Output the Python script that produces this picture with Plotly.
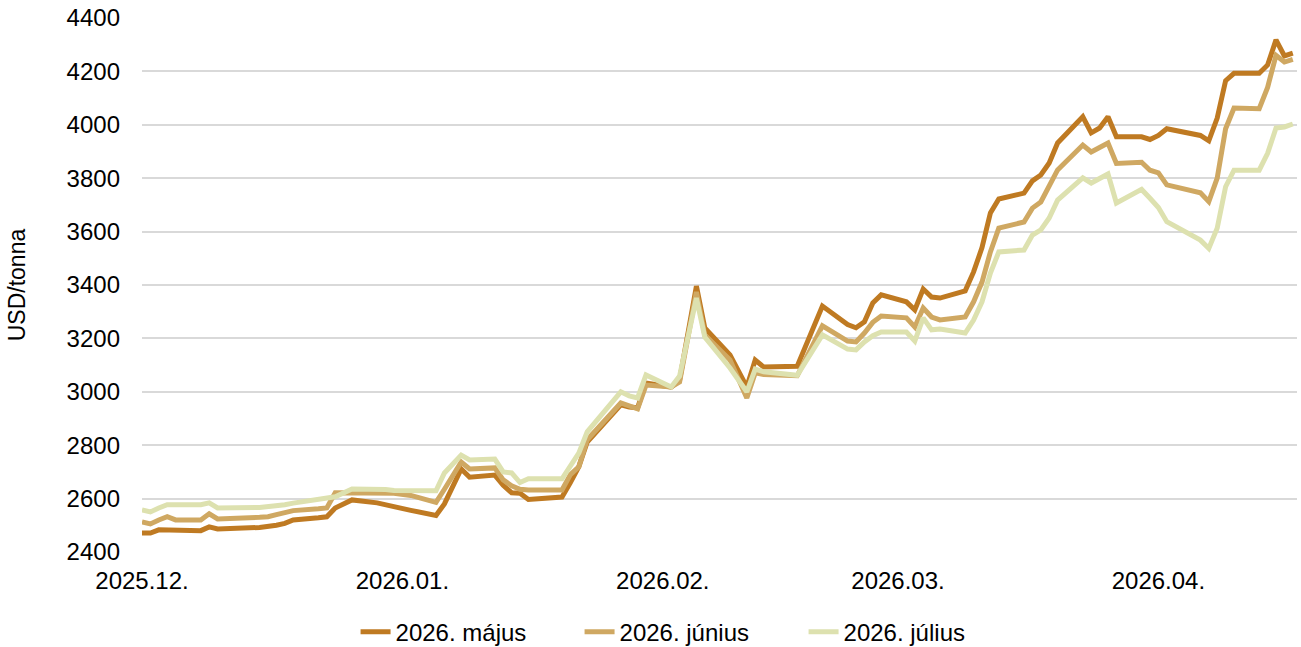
import plotly.graph_objects as go

# trading days (vertices)
dates = [
    "2025-12-01", "2025-12-02", "2025-12-03", "2025-12-04", "2025-12-05",
    "2025-12-08", "2025-12-09", "2025-12-10", "2025-12-15", "2025-12-16",
    "2025-12-17", "2025-12-18", "2025-12-19", "2025-12-22", "2025-12-23",
    "2025-12-24", "2025-12-26", "2025-12-29", "2025-12-30", "2025-12-31",
    "2026-01-02", "2026-01-05", "2026-01-06", "2026-01-08", "2026-01-09",
    "2026-01-12", "2026-01-13", "2026-01-14", "2026-01-15", "2026-01-16",
    "2026-01-20", "2026-01-21", "2026-01-22", "2026-01-23", "2026-01-27",
    "2026-01-28", "2026-01-29", "2026-01-30", "2026-02-02", "2026-02-03",
    "2026-02-05", "2026-02-06", "2026-02-09", "2026-02-11", "2026-02-12",
    "2026-02-13", "2026-02-17", "2026-02-20", "2026-02-23", "2026-02-24",
    "2026-02-25", "2026-02-26", "2026-02-27", "2026-03-02", "2026-03-03",
    "2026-03-04", "2026-03-05", "2026-03-06", "2026-03-09", "2026-03-10",
    "2026-03-11", "2026-03-12", "2026-03-13", "2026-03-16", "2026-03-17",
    "2026-03-18", "2026-03-19", "2026-03-20", "2026-03-23", "2026-03-24",
    "2026-03-25", "2026-03-26", "2026-03-27", "2026-03-30", "2026-03-31",
    "2026-04-01", "2026-04-02", "2026-04-06", "2026-04-07", "2026-04-08",
    "2026-04-09", "2026-04-10", "2026-04-13", "2026-04-14", "2026-04-15",
    "2026-04-16", "2026-04-17",
]

majus = [
    2471, 2471, 2483, 2483, 2480,
    2480, 2494, 2486, 2492, 2494,
    2500, 2507, 2520, 2528, 2532,
    2565, 2595, 2584, 2578, 2568,
    2556, 2537, 2580, 2711, 2680,
    2688, 2650, 2622, 2620, 2597,
    2606, 2660, 2719, 2812, 2951,
    2943, 2940, 3033, 3018, 3044,
    3396, 3239, 3138, 3018, 3119,
    3093, 3096, 3321, 3252, 3240,
    3262, 3333, 3363, 3337, 3307,
    3385, 3355, 3351, 3378, 3449,
    3540, 3670, 3722, 3744, 3790,
    3812, 3857, 3932, 4030, 3970,
    3988, 4030, 3955, 3955, 3945,
    3960, 3985, 3960, 3940, 4025,
    4165, 4193, 4193, 4224, 4318,
    4258, 4268,
]

junius = [
    2513, 2505, 2520, 2532, 2520,
    2520, 2543, 2524, 2530, 2532,
    2540, 2548, 2555, 2562, 2565,
    2622, 2621, 2621, 2621, 2620,
    2612, 2586, 2635, 2737, 2711,
    2715, 2670, 2648, 2635, 2632,
    2632, 2690, 2719, 2820, 2958,
    2945, 2936, 3025, 3018, 3037,
    3374, 3213, 3119, 2977, 3071,
    3065, 3060, 3247, 3190, 3187,
    3220, 3260, 3284, 3277, 3243,
    3314, 3280, 3269, 3280, 3337,
    3411, 3524, 3613, 3636, 3688,
    3711, 3767, 3831, 3924, 3898,
    3915, 3932, 3855, 3860, 3830,
    3820, 3775, 3745, 3712, 3800,
    3985, 4063, 4060, 4140, 4260,
    4235, 4245,
]

julius = [
    2558, 2550, 2565, 2577, 2577,
    2577, 2584, 2565, 2567, 2569,
    2573, 2577, 2583, 2595, 2599,
    2607, 2636, 2636, 2634, 2630,
    2629, 2629, 2696, 2763, 2745,
    2748, 2700, 2696, 2660, 2674,
    2674, 2719, 2770, 2850, 3000,
    2985, 2977, 3063, 3018, 3059,
    3351, 3205, 3089, 3000, 3085,
    3075, 3062, 3213, 3160, 3157,
    3187, 3210, 3224, 3224, 3190,
    3277, 3232, 3235, 3220, 3269,
    3337, 3445, 3524, 3531, 3587,
    3606, 3651, 3718, 3801, 3782,
    3800, 3816, 3707, 3758, 3725,
    3690, 3637, 3568, 3537, 3613,
    3768, 3830, 3830, 3893, 3988,
    3992, 4003,
]

series_names = ["2026. május", "2026. június", "2026. július"]
colors = ["#BF7A22", "#CFA862", "#DDE1AF"]

tick_vals = ["2025-12-01", "2026-01-01", "2026-02-01", "2026-03-01", "2026-04-01"]
tick_text = ["2025.12.", "2026.01.", "2026.02.", "2026.03.", "2026.04."]

fig = go.Figure()
for name, vals, col in zip(series_names, [majus, junius, julius], colors):
    fig.add_trace(go.Scatter(x=dates, y=vals, name=name, mode="lines",
                             line=dict(color=col, width=5), cliponaxis=False))

fig.update_layout(
    width=1301, height=647,
    margin=dict(l=142, r=4, t=18, b=95),
    plot_bgcolor="white", paper_bgcolor="white",
    font=dict(family="Liberation Sans, Arial, sans-serif", size=24, color="#000000"),
    showlegend=True,
    legend=dict(orientation="h", xref="container", yref="container",
                x=0.2733, xanchor="left", y=0.023, yanchor="middle",
                font=dict(size=24), entrywidth=179, entrywidthmode="pixels"),
    xaxis=dict(type="date", range=["2025-12-01", "2026-04-17 12:00"],
               tickvals=tick_vals, ticktext=tick_text, showgrid=False,
               showline=False, zeroline=False, ticks="", ticklabelstandoff=12,
               automargin=False),
    yaxis=dict(range=[2400, 4400], dtick=200, tick0=2400, showgrid=True,
               gridcolor="#d9d9d9", gridwidth=2, zeroline=False, showline=False,
               ticks="", ticklabelstandoff=21, automargin=False),
    annotations=[dict(text="USD/tonna", textangle=-90, xref="paper", yref="paper",
                      x=-0.108, y=0.5, xanchor="center", yanchor="middle",
                      showarrow=False, font=dict(size=23))],
)

fig.write_html("out.html", config={"displayModeBar": False},
               post_script="document.body.style.margin='0';")
